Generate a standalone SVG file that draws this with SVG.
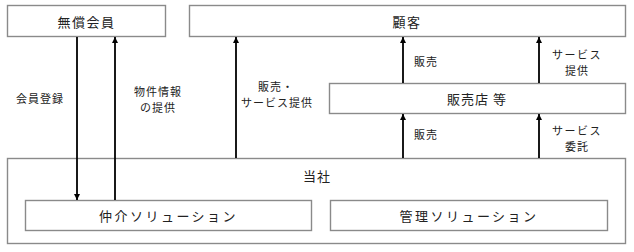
<svg xmlns="http://www.w3.org/2000/svg" width="634" height="252" viewBox="0 0 634 252">
<defs>
<style>
.box{fill:#fff;stroke:#8a8a8a;stroke-width:1.4}
.t{font-family:"Noto Sans CJK JP","Noto Sans",sans-serif;font-size:13px;fill:#222;text-anchor:middle;dominant-baseline:central}
.l{font-family:"Noto Sans CJK JP","Noto Sans",sans-serif;font-size:11px;fill:#222;text-anchor:middle;dominant-baseline:central}
.ar{stroke:#000;stroke-width:1.8;fill:none;marker-end:url(#ah)}
</style>
<marker id="ah" viewBox="0 0 10 10" refX="10" refY="5" markerWidth="6" markerHeight="6" markerUnits="userSpaceOnUse" orient="auto">
<path d="M0,0 L10,5 L0,10 Z" fill="#000"/>
</marker>
</defs>
<rect width="634" height="252" fill="#fff"/>
<g id="tousha">
<rect class="box" x="7.5" y="158.5" width="618" height="85"/>
<text class="t" x="317" y="175" letter-spacing="1">当社</text>
</g>
<g id="muryou">
<rect class="box" x="7.5" y="5.5" width="158" height="31"/>
<text class="t" x="86.5" y="21" letter-spacing="1.5">無償会員</text>
</g>
<g id="kokyaku">
<rect class="box" x="189.5" y="5.5" width="436" height="31"/>
<text class="t" x="407" y="21" letter-spacing="1.5">顧客</text>
</g>
<g id="hanbaiten">
<rect class="box" x="329.5" y="83.5" width="296" height="30"/>
<text class="t" x="477" y="98.5" letter-spacing="1">販売店 等</text>
</g>
<g id="chukai">
<rect class="box" x="25.5" y="200.5" width="286" height="30"/>
<text class="t" x="168.5" y="215.5" letter-spacing="2.5">仲介ソリューション</text>
</g>
<g id="kanri">
<rect class="box" x="330.5" y="200.5" width="277" height="30"/>
<text class="t" x="469" y="215.5" letter-spacing="2.5">管理ソリューション</text>
</g>
<g id="connectors">
<line class="ar" x1="77" y1="37" x2="77" y2="200"/>
<line class="ar" x1="115" y1="200" x2="115" y2="37"/>
<line class="ar" x1="236" y1="158" x2="236" y2="37"/>
<line class="ar" x1="403" y1="83" x2="403" y2="37"/>
<line class="ar" x1="539" y1="83" x2="539" y2="37"/>
<line class="ar" x1="403" y1="158" x2="403" y2="114"/>
<line class="ar" x1="539" y1="158" x2="539" y2="114"/>
<text class="l" x="40" y="98" letter-spacing="1">会員登録</text>
<text class="l" x="158" y="91" letter-spacing="1">物件情報</text>
<text class="l" x="158" y="107" letter-spacing="1">の提供</text>
<text class="l" x="276" y="86" letter-spacing="1">販売・</text>
<text class="l" x="277" y="102" letter-spacing="1">サービス提供</text>
<text class="l" x="426" y="61" letter-spacing="1">販売</text>
<text class="l" x="577" y="54" letter-spacing="1.5">サービス</text>
<text class="l" x="577" y="70" letter-spacing="1">提供</text>
<text class="l" x="426" y="134" letter-spacing="1">販売</text>
<text class="l" x="577" y="130" letter-spacing="1.5">サービス</text>
<text class="l" x="577" y="146" letter-spacing="1">委託</text>
</g>
</svg>
